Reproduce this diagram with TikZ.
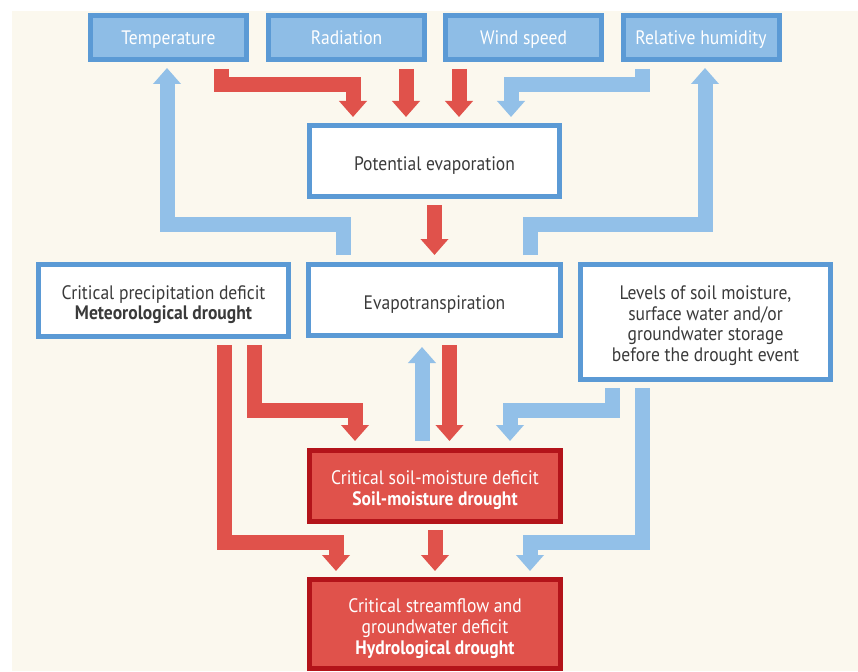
\documentclass[tikz,border=0pt]{standalone}
\usepackage{fontspec}
\setmainfont{PT Sans}[FakeStretch=0.9]
\usetikzlibrary{arrows.meta,calc}

\definecolor{cream}{HTML}{FBF8EE}
\definecolor{boxblue}{HTML}{8EBDE6}
\definecolor{boxedge}{HTML}{5B9AD5}
\definecolor{arrowblue}{HTML}{92C0E8}
\definecolor{boxred}{HTML}{E0524B}
\definecolor{rededge}{HTML}{B3141A}
\definecolor{textgrey}{HTML}{3A3A3A}

\tikzset{
	every node/.style={font=\fontsize{19.5}{20.7}\selectfont},
	topbox/.style={draw=boxedge, fill=boxblue, line width=5pt, text=white, minimum width=156pt, minimum height=44pt, inner sep=0pt, outer sep=0pt, text depth=0pt},
	whitebox/.style={draw=boxedge, fill=white, line width=5pt, text=textgrey, align=center, inner sep=0pt, outer sep=0pt, text depth=0pt},
	redbox/.style={draw=rededge, fill=boxred, line width=5pt, text=white, align=center, inner sep=0pt, outer sep=0pt, text depth=0pt},
	bluearrow/.style={draw=arrowblue, line width=15pt, line join=miter, -{Triangle[width=27pt,length=16pt]}},
	redarrow/.style={draw=boxred, line width=15pt, line join=miter, -{Triangle[width=27pt,length=16pt]}}
}

\begin{document}
\begin{tikzpicture}[x=1pt, y=-1pt]
		%%%%% START %%%%%
		\useasboundingbox (0, 0) rectangle (858, 671);
		\fill[cream] (12, 11) rectangle (858, 671);
		
		% driving variables
		\node[topbox] (temp) at (168.5, 37.5) {Temperature};
		\node[topbox] (rad) at (346.5, 37.5) {Radiation};
		\node[topbox] (wind) at (523.5, 37.5) {Wind speed};
		\node[topbox] (relhum) at (701, 37.5) {Relative humidity};
		
		\node[whitebox, minimum width=250pt, minimum height=71pt, text height=19pt] (poteva) at (434.5, 161) {Potential evaporation};
		\node[whitebox, minimum width=252pt, minimum height=71pt, text height=19pt] (evapo) at (434.5, 300) {Evapotranspiration};
		\node[whitebox, minimum width=250pt, minimum height=72pt, text height=38.5pt] (precip) at (163.5, 300.5) {Critical precipitation deficit\\\textbf{Meteorological drought}};
		\node[whitebox, minimum width=250pt, minimum height=115pt, text height=79pt] (levels) at (705.5, 322) {Levels of soil moisture,\\surface water and/or\\groundwater storage\\before the drought event};
		
		% droughts
		\node[redbox, minimum width=251pt, minimum height=71pt, text height=39pt] (soil) at (435, 486) {Critical soil-moisture deficit\\\textbf{Soil-moisture drought}};
		\node[redbox, minimum width=251pt, minimum height=89pt, text height=60.5pt] (hydro) at (435, 624) {Critical streamflow and\\groundwater deficit\\\textbf{Hydrological drought}};
		
		% into potential evaporation
		\draw[redarrow] ($(temp.south)+(52.5, 9.5)$) -- ++(0, 16) -| ($(poteva.north)+(-81.5, -8.5)$);
		\draw[redarrow] ($(rad.south)+(59.5, 9.5)$) -- ($(poteva.north)+(-28.5, -8.5)$);
		\draw[redarrow] ($(wind.south)+(-64.5, 9.5)$) -- ($(poteva.north)+(24.5, -8.5)$);
		\draw[bluearrow] ($(relhum.south)+(-59, 9.5)$) -- ++(0, 16) -| ($(poteva.north)+(76.5, -8.5)$);
		
		\draw[redarrow] ($(poteva.south)+(0, 8.5)$) -- ($(evapo.north)+(0, -9.5)$);
		
		% feedback
		\draw[bluearrow] ($(evapo.north)+(-91.5, -9.5)$) -- ++(0, -31) -| ($(temp.south)+(-1.5, 8.5)$);
		\draw[bluearrow] ($(evapo.north)+(95.5, -9.5)$) -- ++(0, -31) -| ($(relhum.south)+(4, 8.5)$);
		
		% into soil-moisture drought
		\draw[redarrow] ($(precip.south)+(90.5, 8.5)$) -- ++(0, 65) -| ($(soil.north)+(-80, -9.5)$);
		\draw[redarrow] ($(evapo.south)+(15, 9.5)$) -- ($(soil.north)+(14.5, -9.5)$);
		\draw[bluearrow] ($(soil.north)+(-13, -9.5)$) -- ($(evapo.south)+(-12.5, 11.5)$);
		\draw[bluearrow] ($(levels.south)+(-93.5, 8.5)$) -- ++(0, 22) -| ($(soil.north)+(75, -9.5)$);
		
		% into hydrological drought
		\draw[redarrow] ($(precip.south)+(60.5, 8.5)$) -- ++(0, 197) -| ($(hydro.north)+(-99, -8.5)$);
		\draw[redarrow] ($(soil.south)+(0, 8.5)$) -- ($(hydro.north)+(0, -8.5)$);
		\draw[bluearrow] ($(levels.south)+(-63.5, 8.5)$) -- ++(0, 154) -| ($(hydro.north)+(95, -8.5)$);
		%%%%% END %%%%%
\end{tikzpicture}
\end{document}
